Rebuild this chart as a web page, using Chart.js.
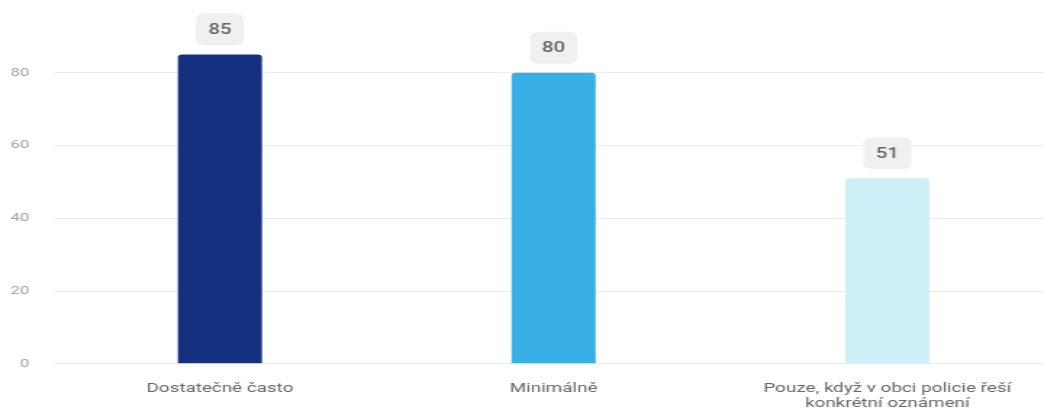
<!DOCTYPE html>
<html>
<head>
<meta charset="utf-8">
<script src="https://cdn.jsdelivr.net/npm/chart.js@4.4.1/dist/chart.umd.min.js"></script>
<style>
  html, body { margin: 0; padding: 0; background: #fff; overflow: hidden; }
  body { width: 1043px; height: 411px; position: relative; }
  /* the reference looks horizontally stretched, so stretch the canvas too */
  #wrap {
    position: absolute; left: 0; top: -40px;
    width: 728px; height: 470px;
    transform: scaleX(1.45); transform-origin: 0 0;
  }
</style>
</head>
<body>
<div id="wrap"><canvas id="chart"></canvas></div>
<script>
const categories = [
  'Dostatečně často',
  'Minimálně',
  ['Pouze, když v obci policie řeší', 'konkrétní oznámení'],
];
const values = [85, 80, 51];
const barColors = ['#14307f', '#3aaee6', '#cdeff7'];
const yTicks = [0, 20, 40, 60, 80, 100];

const valueBoxes = {
  id: 'valueBoxes',
  afterDatasetsDraw(chart) {
    const ctx = chart.ctx;
    const meta = chart.getDatasetMeta(0);
    ctx.save();
    ctx.font = '500 14px Roboto';
    ctx.textAlign = 'center';
    ctx.textBaseline = 'middle';
    meta.data.forEach((bar, i) => {
      const w = 33;
      const h = 32;
      const x = bar.x - w / 2;
      const y = bar.y - 9 - h;
      ctx.fillStyle = '#f0f0f0';
      ctx.beginPath();
      ctx.roundRect(x, y, w, h, 6);
      ctx.fill();
      ctx.fillStyle = '#666';
      ctx.fillText(String(values[i]), bar.x, y + h / 2 + 1);
    });
    ctx.restore();
  },
};

new Chart(document.getElementById('chart'), {
  type: 'bar',
  data: {
    labels: categories,
    datasets: [
      {
        data: values,
        backgroundColor: barColors,
        borderRadius: 3,
        categoryPercentage: 1,
        barPercentage: 0.252,
      },
    ],
  },
  options: {
    responsive: true,
    maintainAspectRatio: false,
    animation: false,
    layout: { padding: { top: 40, right: 1, bottom: 9, left: 0 } },
    plugins: {
      legend: { display: false },
      tooltip: { enabled: false },
    },
    scales: {
      x: {
        grid: { display: false },
        border: { display: false },
        ticks: {
          color: '#666',
          padding: 9,
          maxRotation: 0,
          font: { family: 'Roboto', size: 13 },
        },
      },
      y: {
        min: 0,
        max: 100,
        afterFit(scale) { scale.width = 36.6; },
        afterBuildTicks(scale) { scale.ticks = yTicks.map((v) => ({ value: v })); },
        grid: {
          color: (c) => (c.tick && c.tick.value === 100 ? 'rgba(0,0,0,0)' : '#ececf0'),
          drawTicks: false,
        },
        border: { display: false },
        ticks: {
          color: '#a0a0a0',
          padding: 16.5,
          font: { family: 'Roboto', size: 11.5 },
          callback: (v) => (v === 100 ? '' : v),
        },
      },
    },
  },
  plugins: [valueBoxes],
});
</script>
</body>
</html>
